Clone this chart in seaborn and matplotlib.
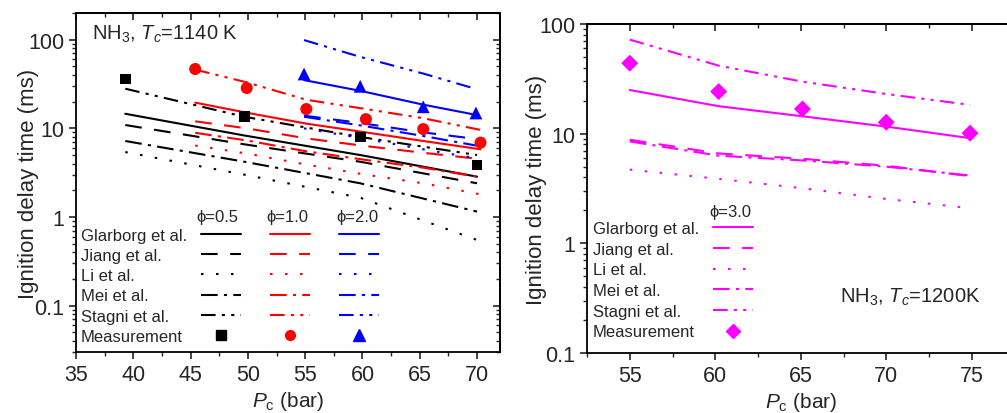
import pandas as pd
import seaborn as sns
import matplotlib.pyplot as plt
from matplotlib.lines import Line2D
from matplotlib.ticker import MultipleLocator, LogLocator, FuncFormatter, NullFormatter

# ---- data (ignition delay time in ms vs P_c in bar) ----
models = ["Glarborg et al.", "Jiang et al.", "Li et al.", "Mei et al.", "Stagni et al."]

# left panel, Tc = 1140 K
p_phi05 = [39.3, 49.7, 59.8, 70.0]
glarborg_05 = [14.6, 8.3, 5.0, 2.85]
jiang_05 = [10.9, 6.6, 4.2, 2.4]
li_05 = [5.4, 3.0, 1.65, 0.55]
mei_05 = [7.2, 4.2, 2.4, 1.15]
stagni_05 = [28.0, 13.5, 8.0, 5.0]
meas_05 = [36.0, 13.7, 8.0, 3.85]

p_phi10 = [45.4, 49.9, 55.1, 60.3, 65.3, 70.3]
glarborg_10 = [19.5, 15.0, 11.3, 9.0, 7.2, 5.8]
jiang_10 = [12.0, 10.0, 7.7, 6.3, 5.3, 4.5]
li_10 = [6.4, 5.2, 3.9, 3.0, 2.4, 1.8]
mei_10 = [8.9, 7.3, 5.5, 4.4, 3.6, 2.8]
stagni_10 = [46.0, 33.0, 21.0, 16.5, 13.0, 9.6]
meas_10 = [46.7, 28.5, 16.5, 12.7, 9.8, 6.9]

p_phi20 = [54.9, 59.8, 65.3, 69.9]
glarborg_20 = [35.0, 26.5, 18.5, 14.2]
jiang_20 = [13.9, 11.5, 9.0, 7.6]
li_20 = [10.0, 7.8, 5.8, 4.6]
mei_20 = [13.5, 10.8, 8.2, 6.4]
stagni_20 = [99.0, 64.0, 41.5, 27.8]
meas_20 = [41.0, 29.8, 17.5, 14.9]

# right panel, Tc = 1200 K
p_phi30 = [55.0, 60.2, 65.1, 70.0, 74.9]
glarborg_30 = [25.0, 17.8, 14.4, 11.6, 9.1]
jiang_30 = [8.8, 6.6, 5.9, 5.1, 4.1]
li_30 = [4.7, 3.87, 3.18, 2.54, 2.09]
mei_30 = [8.5, 6.3, 5.7, 5.0, 4.15]
stagni_30 = [72.0, 41.7, 29.8, 23.0, 18.3]
meas_30 = [43.9, 24.2, 16.8, 12.7, 10.1]

colors = {"0.5": "black", "1.0": "#ff0000", "2.0": "#0000ff", "3.0": "#ff00ff"}
markers = {"0.5": "s", "1.0": "o", "2.0": "^", "3.0": "D"}
marker_size = {"0.5": 60, "1.0": 75, "2.0": 85, "3.0": 75}
dash_styles = {
    "Glarborg et al.": "",
    "Jiang et al.": (8, 6),
    "Li et al.": (1.2, 6),
    "Mei et al.": (8, 3, 1.5, 3),
    "Stagni et al.": (7, 3, 1.5, 3, 1.5, 3),
}


def sim_frame(phi, p, series):
    rows = []
    for model, vals in zip(models, series):
        rows.append(pd.DataFrame({"P": p, "tau": vals, "phi": phi, "model": model}))
    return pd.concat(rows, ignore_index=True)


sim_left = pd.concat([
    sim_frame("0.5", p_phi05, [glarborg_05, jiang_05, li_05, mei_05, stagni_05]),
    sim_frame("1.0", p_phi10, [glarborg_10, jiang_10, li_10, mei_10, stagni_10]),
    sim_frame("2.0", p_phi20, [glarborg_20, jiang_20, li_20, mei_20, stagni_20]),
], ignore_index=True)
exp_left = pd.concat([
    pd.DataFrame({"P": p_phi05, "tau": meas_05, "phi": "0.5"}),
    pd.DataFrame({"P": p_phi10, "tau": meas_10, "phi": "1.0"}),
    pd.DataFrame({"P": p_phi20, "tau": meas_20, "phi": "2.0"}),
], ignore_index=True)
sim_right = sim_frame("3.0", p_phi30, [glarborg_30, jiang_30, li_30, mei_30, stagni_30])
exp_right = pd.DataFrame({"P": p_phi30, "tau": meas_30, "phi": "3.0"})

# ---- style ----
sns.set_style("ticks")
plt.rcParams["font.family"] = ["Liberation Sans", "DejaVu Sans"]
plt.rcParams["mathtext.fontset"] = "custom"
plt.rcParams["mathtext.rm"] = "Liberation Sans"
plt.rcParams["mathtext.it"] = "Liberation Sans:italic"
plt.rcParams["axes.linewidth"] = 1.3
plt.rcParams["axes.edgecolor"] = "black"

fig = plt.figure(figsize=(10.07, 4.14), dpi=100)
ax1 = fig.add_axes([76 / 1007, 61 / 414, 424 / 1007, 339 / 414])
ax2 = fig.add_axes([587 / 1007, 60 / 414, 427.5 / 1007, 329 / 414])


def draw(ax, sim, exp, phis):
    pal = {k: colors[k] for k in phis}
    sns.lineplot(data=sim, x="P", y="tau", hue="phi", style="model", palette=pal,
                 dashes=dash_styles, estimator=None, linewidth=1.5, legend=False, ax=ax)
    for phi in phis:
        sub = exp[exp["phi"] == phi]
        sns.scatterplot(data=sub, x="P", y="tau", color=colors[phi], marker=markers[phi],
                        s=marker_size[phi], edgecolor="none", legend=False, ax=ax, zorder=5)


def style_axes(ax, xlim, ylim, ypad, right_ticks=True):
    ax.set_yscale("log")
    ax.set_xlim(*xlim)
    ax.set_ylim(*ylim)
    ax.xaxis.set_major_locator(MultipleLocator(5))
    ax.xaxis.set_minor_locator(MultipleLocator(2.5))
    ax.yaxis.set_major_locator(LogLocator(base=10, numticks=10))
    ax.yaxis.set_minor_locator(LogLocator(base=10, subs=range(2, 10), numticks=10))
    ax.yaxis.set_major_formatter(FuncFormatter(lambda v, _: f"{v:g}"))
    ax.yaxis.set_minor_formatter(NullFormatter())
    ax.tick_params(which="major", length=5, width=1.2, labelsize=15.5, direction="out")
    ax.tick_params(which="minor", length=3, width=1.0, direction="out")
    ax.set_xlabel(r"$P_\mathrm{c}$ (bar)", fontsize=15, labelpad=3)
    ax.set_ylabel("Ignition delay time (ms)", fontsize=16, labelpad=ypad)
    for s in ax.spines.values():
        s.set_visible(True)
    top = ax.secondary_xaxis("top")
    top.xaxis.set_major_locator(MultipleLocator(5))
    top.xaxis.set_minor_locator(MultipleLocator(2.5))
    top.tick_params(which="major", direction="in", length=5, width=1.2, labeltop=False)
    top.tick_params(which="minor", direction="in", length=3, width=1.0)
    if right_ticks:
        rt = ax.secondary_yaxis("right")
        rt.yaxis.set_major_locator(LogLocator(base=10, numticks=10))
        rt.yaxis.set_minor_locator(LogLocator(base=10, subs=range(2, 10), numticks=10))
        rt.yaxis.set_minor_formatter(NullFormatter())
        rt.tick_params(which="major", direction="in", length=5, width=1.2, labelright=False)
        rt.tick_params(which="minor", direction="in", length=3, width=1.0)


draw(ax1, sim_left, exp_left, ["0.5", "1.0", "2.0"])
draw(ax2, sim_right, exp_right, ["3.0"])
style_axes(ax1, (35, 72), (0.03, 200), ypad=-8)
style_axes(ax2, (52.5, 77.5), (0.1, 100), ypad=-6, right_ticks=False)


def legend_handles(phi):
    hs = [Line2D([], [], color=colors[phi], lw=1.5, dashes=dash_styles[m]) for m in models]
    hs.append(Line2D([], [], color=colors[phi], ls="none", marker=markers[phi],
                     markersize=7 if phi != "2.0" else 8))
    return hs


row_labels = models + ["Measurement"]
blank = [Line2D([], [], ls="none") for _ in row_labels]

leg_kw = dict(frameon=False, fontsize=12, handlelength=2.4, handletextpad=0.9,
              columnspacing=0.84, borderpad=0, borderaxespad=0,
              numpoints=1, loc="upper left")

h_left = blank + legend_handles("0.5") + legend_handles("1.0") + legend_handles("2.0")
l_left = row_labels + [""] * 18
ax1.legend(h_left, l_left, ncol=4, bbox_to_anchor=(-0.118, 0.366), labelspacing=0.31, **leg_kw)
for phi, xf in zip(["0.5", "1.0", "2.0"], [0.3325, 0.4976, 0.6627]):
    ax1.text(xf, 0.401, "ϕ=" + phi, transform=ax1.transAxes, ha="center", va="center", fontsize=12)

h_right = blank + legend_handles("3.0")
l_right = row_labels + [""] * 6
ax2.legend(h_right, l_right, ncol=2, bbox_to_anchor=(-0.1146, 0.401), labelspacing=0.34, **leg_kw)
ax2.text(0.3345, 0.4316, "ϕ=3.0", transform=ax2.transAxes, ha="center", va="center", fontsize=12)

ax1.text(0.0377, 0.941, r"NH$_3$, $T_c$=1140 K", transform=ax1.transAxes,
         ha="left", va="center", fontsize=14.5)
ax2.text(0.592, 0.173, r"NH$_3$, $T_c$=1200K", transform=ax2.transAxes,
         ha="left", va="center", fontsize=14.5)

fig.savefig("out.png", dpi=100)
